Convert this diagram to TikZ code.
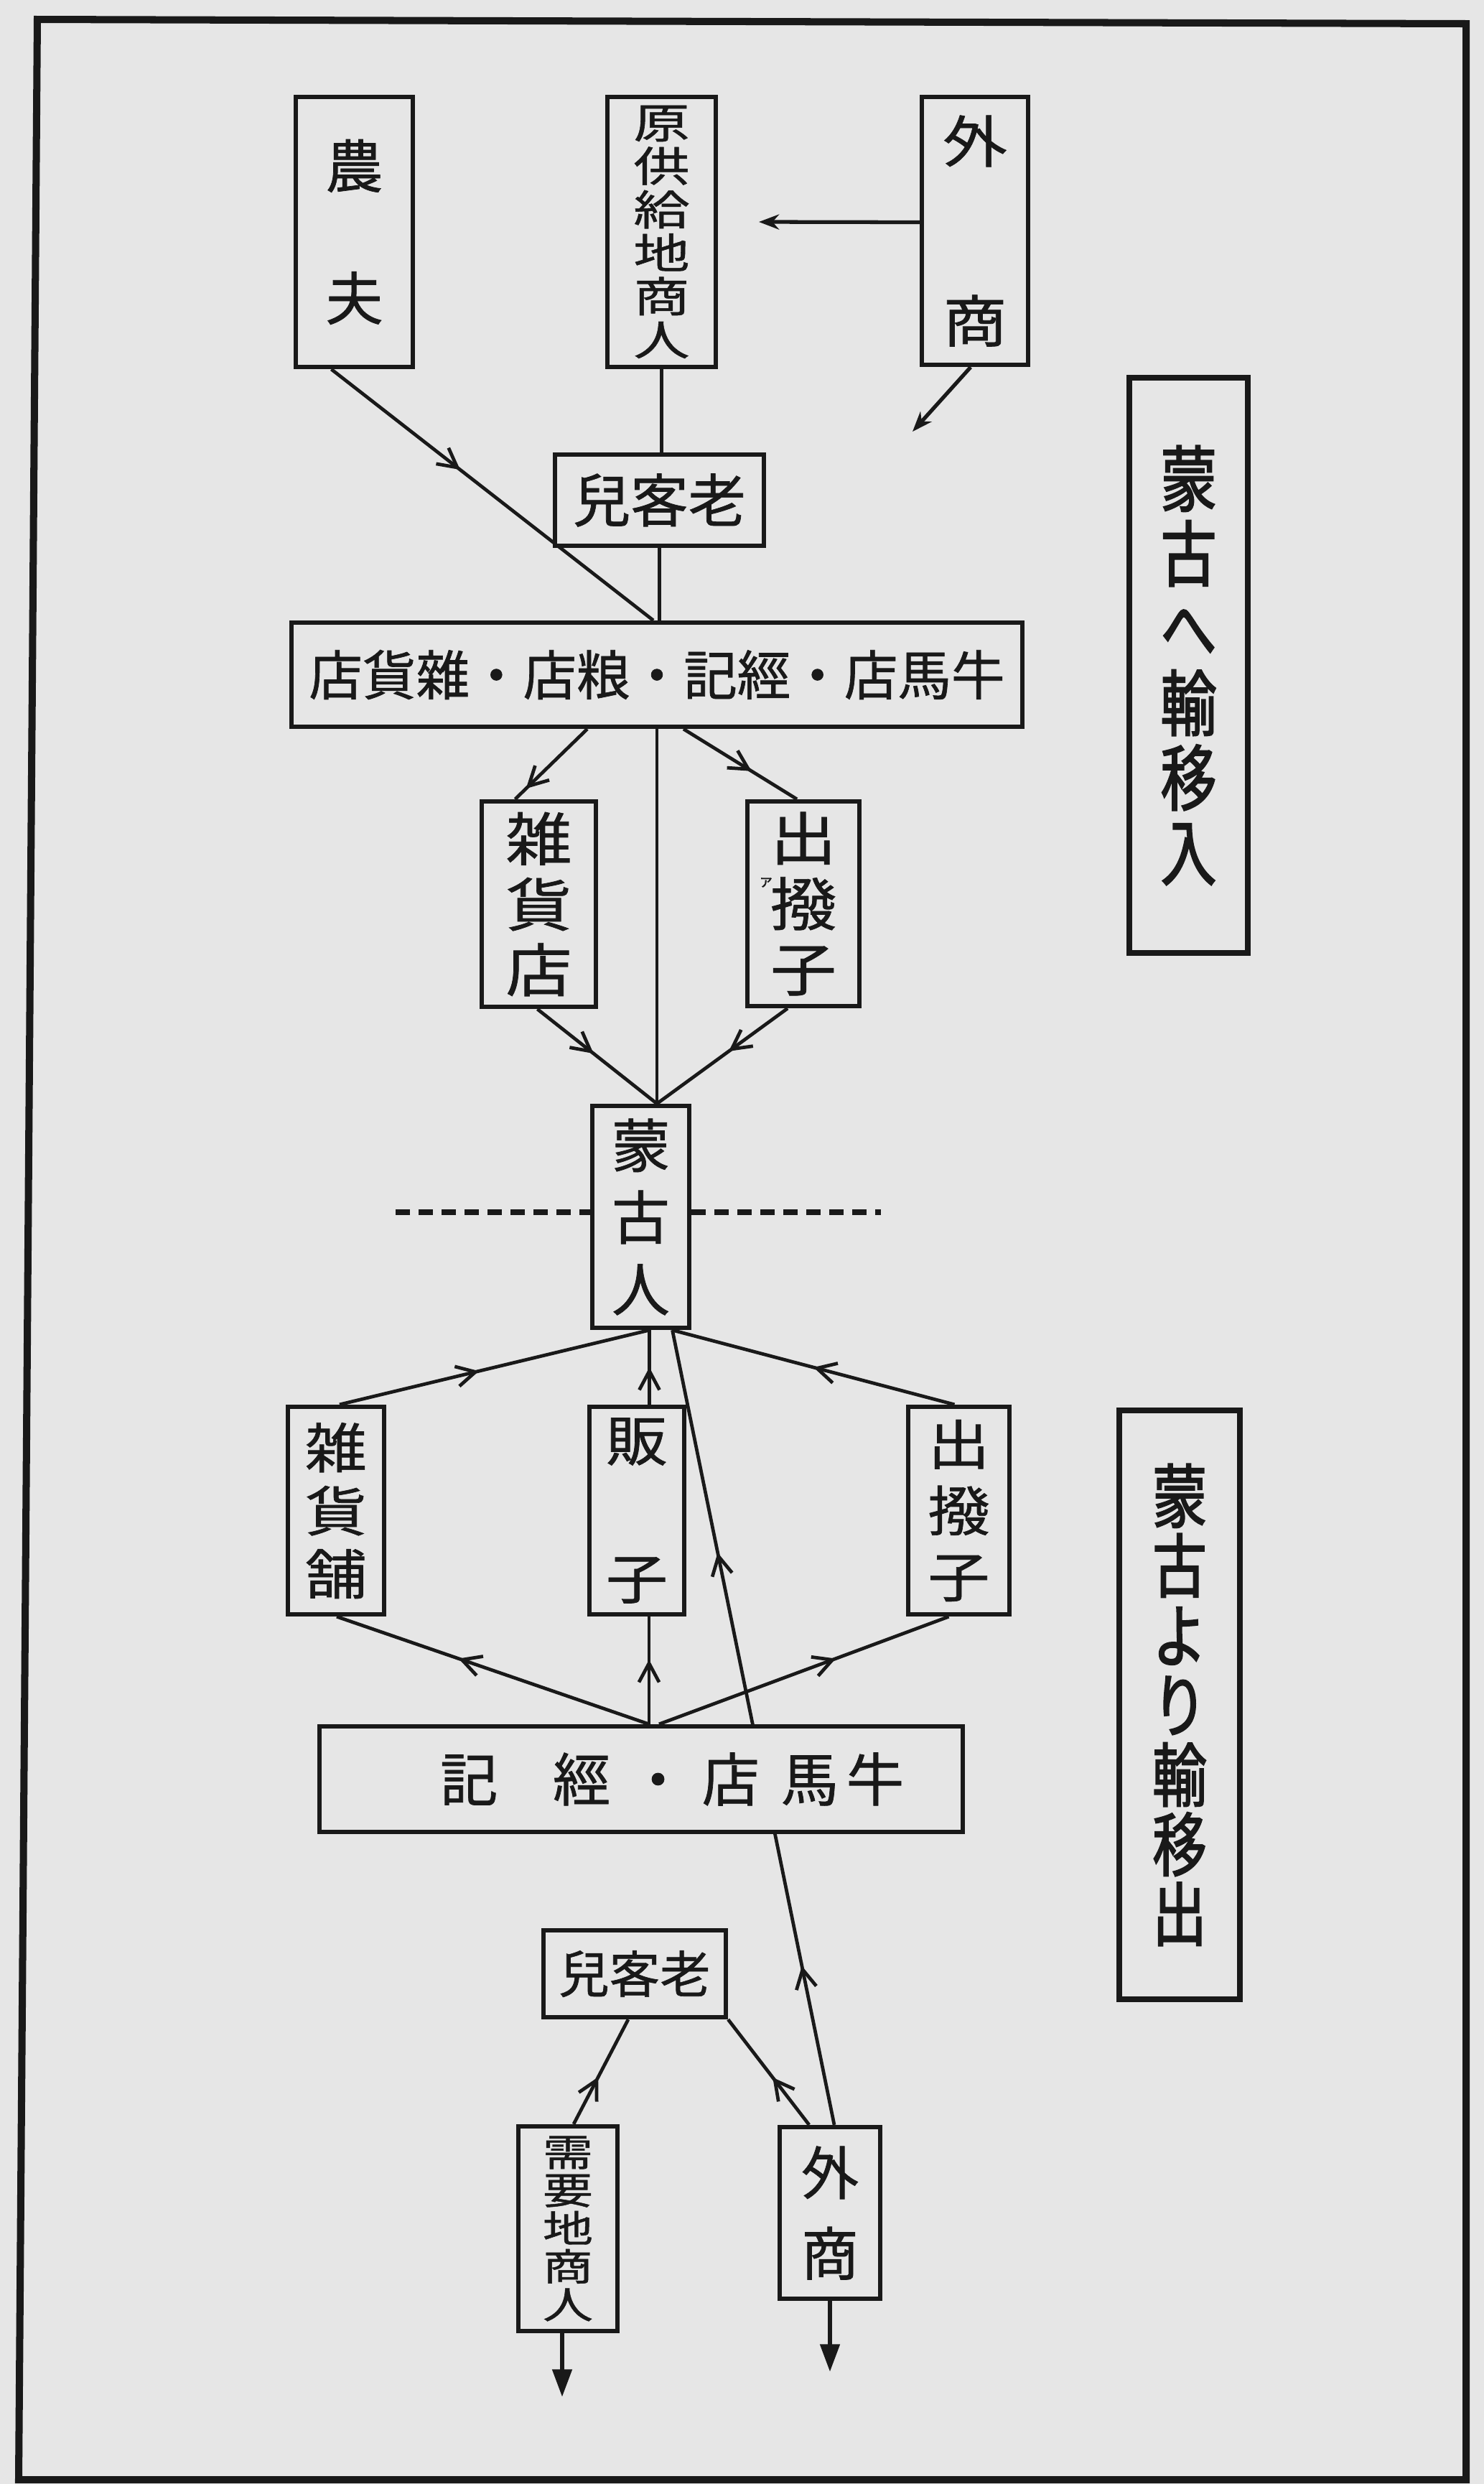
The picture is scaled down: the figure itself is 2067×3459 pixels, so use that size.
\documentclass[tikz,border=0pt]{standalone}
\usepackage{fontspec}
\newfontfamily\jp[FakeBold=0.9]{Noto Sans CJK JP}
\newfontfamily\jpw[FakeStretch=1.15,FakeBold=0.9]{Noto Sans CJK JP}
\newfontfamily\jpww[FakeStretch=1.35,FakeBold=0.9]{Noto Sans CJK JP}
\newfontfamily\jpn[FakeStretch=0.78,FakeBold=2]{Noto Sans CJK JP}
\usetikzlibrary{arrows.meta,decorations.markings,calc}
\definecolor{paper}{RGB}{230,230,230}
\definecolor{ink}{RGB}{25,25,25}
\pgfdeclarelayer{paperlayer}
\pgfdeclarelayer{linelayer}
\pgfsetlayers{paperlayer,linelayer,main}
\begin{document}
\begin{tikzpicture}[x=0.01cm,y=-0.01cm,
  box/.style={draw=ink,line width=1.75pt,fill=paper,inner sep=0pt,align=center,text=ink},
  conn/.style={draw=ink,line width=1.35pt},
  midarr/.style={postaction={decorate,decoration={markings,mark=at position #1 with {\arrow{Straight Barb[length=7.5pt,width=8pt]}}}}},
  endarr/.style={draw=ink,line width=1.9pt,-{Triangle[length=11pt,width=7.5pt]}},
  smallarr/.style={draw=ink,line width=1.5pt,-{Stealth[length=8pt,width=6pt]}},
  divider/.style={draw=ink,line width=2.4pt,dash pattern=on 5.7pt off 3.4pt},
  labelbox/.style={draw=ink,line width=2.4pt,fill=paper,inner sep=0pt,align=center,text=ink}]
\useasboundingbox (0,0) rectangle (2067,3459);
\begin{pgfonlayer}{paperlayer}
\fill[paper] (0,0) rectangle (2067,3459);
\end{pgfonlayer}
\draw[ink,line width=2.85pt,line join=miter] (52,27) -- (2042,33) -- (2042,3453) -- (26,3453) -- cycle;

% ---- upper half ----
\node[box,minimum width=1.63cm,minimum height=3.76cm,font=\jp\fontsize{22.8pt}{52.35pt}\selectfont] (nongfu) at (493.5,323) {農\\夫};
\node[box,minimum width=1.51cm,minimum height=3.76cm,font=\jpww\fontsize{16.5pt}{17.2pt}\selectfont] (yuan) at (921.5,323) {原\\供\\給\\地\\商\\人};
\node[box,minimum width=1.48cm,minimum height=3.73cm,font=\jpw\fontsize{22.2pt}{71.1pt}\selectfont] (wai1) at (1358,321.5) {外\\商};
\node[box,minimum width=2.91cm,minimum height=1.27cm,font=\jp\fontsize{22.8pt}{24pt}\selectfont] (laoke1) at (918.5,696.5) {兒客老};
\node[box,minimum width=10.18cm,minimum height=1.45cm,font=\jp\fontsize{21.2pt}{24pt}\selectfont] (bigA) at (915,939.5) {店貨雜・店粮・記經・店馬牛};
\node[box,minimum width=1.59cm,minimum height=2.86cm,font=\jpw\fontsize{22.8pt}{25.9pt}\selectfont] (zahuo1) at (750.5,1259) {雑\\貨\\店};
\node[box,minimum width=1.56cm,minimum height=2.85cm,font=\jpw\fontsize{22.8pt}{25.9pt}\selectfont] (chubo1) at (1119,1258.5) {出\\撥\\子};
\node[text=ink,inner sep=0pt,font=\jp\fontsize{6pt}{6pt}\selectfont] (kana) at (1067,1229) {ァ};
\node[box,minimum width=1.35cm,minimum height=3.09cm,font=\jp\fontsize{23pt}{28.45pt}\selectfont] (mongol) at (892.5,1694.5) {蒙\\古\\人};

% ---- lower half ----
\node[box,minimum width=1.34cm,minimum height=2.89cm,font=\jpw\fontsize{21.3pt}{25pt}\selectfont] (zahuopu) at (468,2103.5) {雑\\貨\\舗};
\node[box,minimum width=1.32cm,minimum height=2.89cm,font=\jpw\fontsize{21.3pt}{54.6pt}\selectfont] (fanzi) at (887,2103.5) {販\\子};
\node[box,minimum width=1.41cm,minimum height=2.89cm,font=\jpw\fontsize{21.3pt}{26.2pt}\selectfont] (chubo2) at (1335.5,2103.5) {出\\撥\\子};
\node[box,minimum width=8.96cm,minimum height=1.47cm,font=\jp\fontsize{22.8pt}{24pt}\selectfont] (bigB) at (893,2477.5) {\hspace*{24.5pt}記\hspace{21.9pt}經\hspace{7.4pt}・\hspace{6pt}店\hspace{8.5pt}馬\hspace{3.1pt}牛};
\node[box,minimum width=2.54cm,minimum height=1.21cm,font=\jp\fontsize{20pt}{21pt}\selectfont] (laoke2) at (884,2748.5) {兒客老};
\node[box,minimum width=1.38cm,minimum height=2.85cm,font=\jpww\fontsize{14.8pt}{15.1pt}\selectfont] (xuyao) at (791,3103.5) {需\\要\\地\\商\\人};
\node[box,minimum width=1.40cm,minimum height=2.39cm,font=\jp\fontsize{22.8pt}{31.9pt}\selectfont] (wai2) at (1156,3081.5) {外\\商};

% ---- side labels ----
\node[labelbox,minimum width=1.65cm,minimum height=8.01cm,font=\jpn\fontsize{28.4pt}{29.6pt}\selectfont] (lab1) at (1655.5,926.5) {蒙\\古\\へ\\輸\\移\\入};
\node[labelbox,minimum width=1.68cm,minimum height=8.20cm,font=\jpn\fontsize{27.5pt}{27.6pt}\selectfont] (lab2) at (1643,2374) {蒙\\古\\よ\\り\\輸\\移\\出};

% ---- coordinates ----
\coordinate (arrL) at (1057,309);
\coordinate (arrD) at (1271,601);
\coordinate (mtop) at (bigA.south |- mongol.north);
\coordinate (mbot) at ($(mongol.south)+(12,0)$);
\coordinate (mbotR) at ($(mongol.south)+(44,0)$);
\coordinate (bbtop) at ($(bigB.north)+(11,0)$);
\coordinate (dashL) at (551,1688);
\coordinate (dashR) at (1227,1688);
\coordinate (xend) at (783,3338);
\coordinate (wend) at (1156,3303);

\begin{pgfonlayer}{linelayer}
% upper connectors
\draw[conn,midarr=0.4] ($(nongfu.south)+(-32,0)$) -- ($(bigA.north)+(-5,0)$);
\draw[smallarr] ($(wai1.west)+(0,-12)$) -- (arrL);
\draw[smallarr] ($(wai1.south)+(-6,0)$) -- (arrD);
\draw[conn] (yuan.south) -- (yuan.south |- laoke1.north);
\draw[conn] (laoke1.south) -- (laoke1.south |- bigA.north);
\draw[conn,midarr=0.85] ($(bigA.south)+(-97,0)$) -- ($(zahuo1.north)+(-33,0)$);
\draw[conn,midarr=0.6] ($(bigA.south)+(37,0)$) -- ($(chubo1.north)+(-9,0)$);
\draw[conn] (bigA.south) -- (mtop);
\draw[conn,midarr=0.47] ($(zahuo1.south)+(-2,0)$) -- (mtop);
\draw[conn,midarr=0.45] ($(chubo1.south)+(-22,0)$) -- (mtop);
\draw[divider] (dashL) -- (mongol.west |- dashL);
\draw[divider] (mongol.east |- dashR) -- (dashR);
% lower connectors
\draw[conn,midarr=0.45] ($(zahuopu.north)+(5,0)$) -- (mbot);
\draw[conn,midarr=0.5] (fanzi.north -| mbot) -- (mbot);
\draw[conn,midarr=0.5] ($(chubo2.north)+(-6,0)$) -- (mbotR);
\draw[conn,midarr=0.2,midarr=0.72] ($(wai2.north)+(6,0)$) -- (mbotR);
\draw[conn,midarr=0.61] (bbtop) -- ($(zahuopu.south)+(1,0)$);
\draw[conn,midarr=0.6] (bbtop) -- (fanzi.south -| bbtop);
\draw[conn,midarr=0.61] ($(bigB.north)+(25,0)$) -- ($(chubo2.south)+(-14,0)$);
\draw[conn] ($(laoke2.north)+(13,0)$) -- ($(laoke2.north)+(13,0)$ |- bigB.south);
\draw[conn,midarr=0.45] ($(xuyao.north)+(8,0)$) -- ($(laoke2.south)+(-9,0)$);
\draw[conn,midarr=0.45] ($(wai2.north)+(-29,0)$) -- (laoke2.south east);
\draw[endarr] ($(xuyao.south)+(-8,0)$) -- (xend);
\draw[endarr] (wai2.south) -- (wend);
\end{pgfonlayer}
\end{tikzpicture}
\end{document}
